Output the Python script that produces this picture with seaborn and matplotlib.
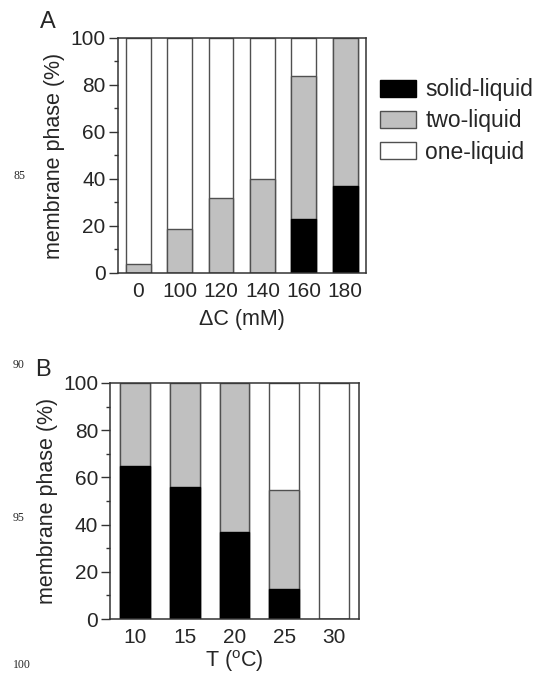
import numpy as np
import pandas as pd
import matplotlib
matplotlib.use("Agg")
import matplotlib.pyplot as plt
from matplotlib.ticker import MultipleLocator
from matplotlib.patches import Patch
import seaborn as sns

# panel A: membrane phase vs concentration difference
cats_a = ["0", "100", "120", "140", "160", "180"]
solid_a = [0, 0, 0, 0, 23, 37]
two_a = [4, 18.5, 32, 40, 61, 63]
one_a = [96, 81.5, 68, 60, 16, 0]

# panel B: membrane phase vs temperature
cats_b = ["10", "15", "20", "25", "30"]
solid_b = [65, 56, 37, 12.5, 0]
two_b = [35, 44, 63, 42, 0]
one_b = [0, 0, 0, 45.5, 100]

phases = ["solid-liquid", "two-liquid", "one-liquid"]
COLORS = {"solid-liquid": "#000000", "two-liquid": "#c0c0c0", "one-liquid": "#ffffff"}
EDGE = "#505050"

sns.set_theme(style="ticks")
plt.rcParams["font.family"] = ["Liberation Sans", "DejaVu Sans"]
plt.rcParams["mathtext.fontset"] = "custom"
plt.rcParams["mathtext.rm"] = "Liberation Sans"


def stacked(ax, cats, solid, two, one, xlabel, xpad):
    df = pd.DataFrame({"cat": cats, "solid": solid, "two": two, "one": one})
    df["c_solid"] = df["solid"]
    df["c_two"] = df["solid"] + df["two"]
    df["c_one"] = df["c_two"] + df["one"]
    # draw from the top of the stack down so lower layers sit in front
    for col, phase in [("c_one", "one-liquid"), ("c_two", "two-liquid"), ("c_solid", "solid-liquid")]:
        sns.barplot(data=df, x="cat", y=col, order=cats, ax=ax, width=0.6,
                    color=COLORS[phase], edgecolor=EDGE if phase != "solid-liquid" else "#000000",
                    linewidth=1.0, saturation=1, errorbar=None)
    ax.set_xlim(-0.5, len(cats) - 0.5)
    ax.set_ylim(0, 100)
    ax.yaxis.set_major_locator(MultipleLocator(20))
    ax.yaxis.set_minor_locator(MultipleLocator(10))
    ax.tick_params(axis="y", which="major", length=6.5, width=1.0, color="#333333",
                   labelsize=15, pad=2)
    ax.tick_params(axis="y", which="minor", length=3, width=1.0, color="#333333")
    ax.tick_params(axis="x", length=0, labelsize=15, pad=6.5)
    for sp in ax.spines.values():
        sp.set_visible(True)
        sp.set_color("#333333")
        sp.set_linewidth(1.1)
    ax.set_xlabel(xlabel, fontsize=15.5, labelpad=xpad)
    ax.set_ylabel("membrane phase (%)", fontsize=15.5, labelpad=4)


fig = plt.figure(figsize=(5.4, 6.74), dpi=100)
ax_a = fig.add_axes([0.2176, 0.5950, 0.4602, 0.3487])
ax_b = fig.add_axes([0.2037, 0.0816, 0.4611, 0.3502])

stacked(ax_a, cats_a, solid_a, two_a, one_a, "\u0394C (mM)", 6)
stacked(ax_b, cats_b, solid_b, two_b, one_b, "T ($^{\\rm o}$C)", 1)

handles = [Patch(facecolor=COLORS[p], edgecolor=EDGE if p != "solid-liquid" else "#000000",
                 linewidth=1.0, label=p) for p in phases]
fig.legend(handles=handles, loc="center left", bbox_to_anchor=(0.703, 0.8205),
           frameon=False, fontsize=16.5, handlelength=1.6, handleheight=0.8,
           handletextpad=0.4, labelspacing=0.35, borderpad=0, borderaxespad=0)

fig.text(47.5 / 540, 1 - 21.5 / 674, "A", fontsize=17, ha="center", va="center")
fig.text(42.5 / 540, 1 - 369.5 / 674, "B", fontsize=17, ha="center", va="center")

# manuscript line numbers in the margin
for num, y in [("85", 176), ("90", 365), ("95", 518), ("100", 665)]:
    fig.text(13 / 540, 1 - y / 674, num, fontsize=8.5, family="Liberation Serif",
             ha="left", va="center")

fig.savefig("out.png", dpi=100)
